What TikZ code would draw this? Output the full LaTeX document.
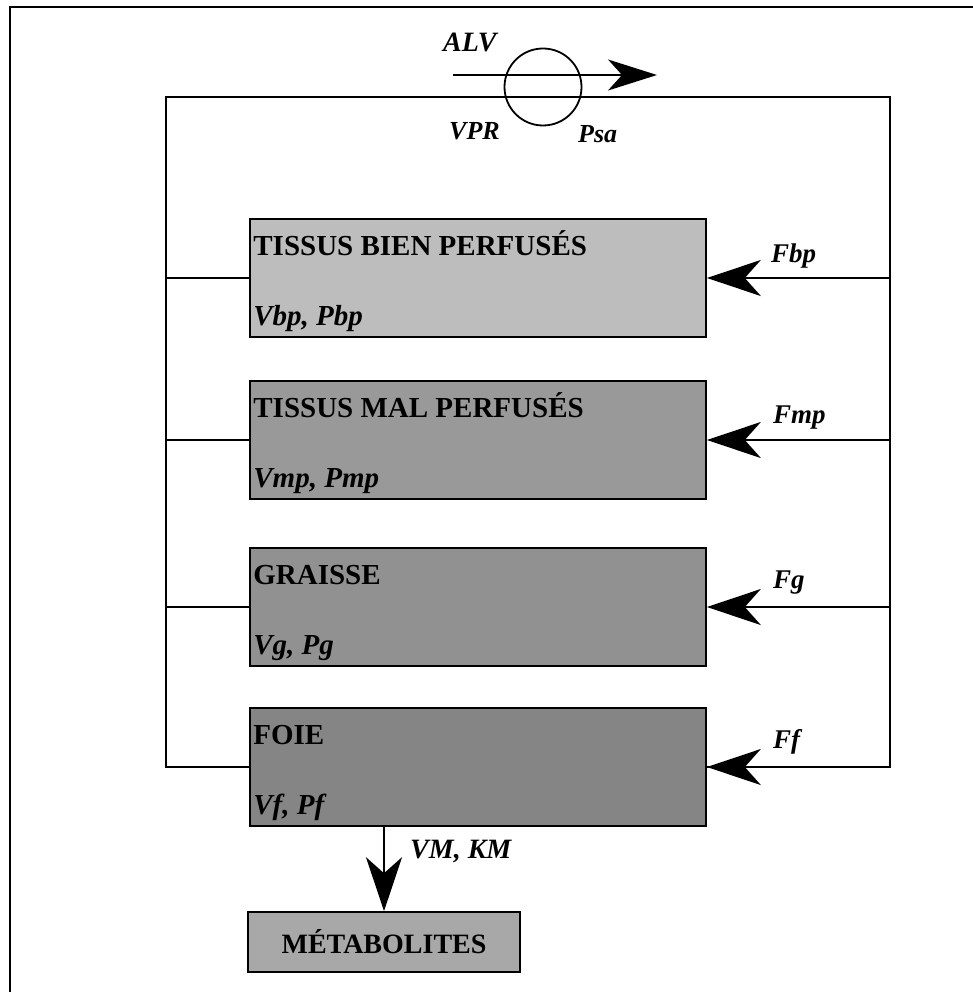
\documentclass[tikz,border=0pt]{standalone}
\usepackage{fontspec}
\setmainfont{Liberation Serif}
\usepackage{tikz}
\usetikzlibrary{arrows.meta,positioning,calc}
\usepackage{xcolor}

\begin{document}
\begin{tikzpicture}[
      x=1pt,y=-1pt,
      cmp/.style={draw,line width=1.6pt,minimum width=456pt,
                  minimum height=118pt,inner sep=0pt},
      ttl/.style={anchor=base west,inner sep=0pt,
                  font=\fontsize{29}{34}\selectfont\bfseries},
      sub/.style={anchor=base west,inner sep=0pt,
                  font=\fontsize{29}{34}\selectfont\bfseries\itshape},
      lbl/.style={anchor=base west,inner sep=0pt,
                  font=\fontsize{27}{32}\selectfont\bfseries\itshape},
      pipe/.style={line width=1.8pt},
      arr/.style={line width=1.8pt,
                  -{Stealth[length=54pt,width=36pt,inset=16pt]}},
      tarr/.style={line width=1.5pt,
                  -{Stealth[length=49pt,width=31pt,inset=14pt]}},
    ]
    \useasboundingbox (0,0) rectangle (973,992);

    % ── Frame (top and left edges only) ─────────────────────────────────────
    \draw[line width=1.3pt] (10,992) -- (10,7) -- (973,7);

    % ── Lung / circulation ──────────────────────────────────────────────────
    \node[draw,circle,line width=1.8pt,minimum size=77pt] (pump) at (543,87) {};
    \coordinate (alvin)  at (453,75);
    \coordinate (alvout) at (657,75);
    \draw[tarr] (alvin) -- (alvout);
    \node[lbl,font=\fontsize{28}{32}\selectfont\bfseries\itshape] at (443,52) {ALV};
    \node[lbl,font=\fontsize{26}{30}\selectfont\bfseries\itshape] at (449,140) {VPR};
    \node[lbl,font=\fontsize{26}{30}\selectfont\bfseries\itshape] at (578,143) {Psa};

    % ── Compartments ────────────────────────────────────────────────────────
    \node[cmp,fill=black!26] (bp)   at (478,278) {};
    \node[cmp,fill=black!40] (mp)   at (478,440) {};
    \node[cmp,fill=black!43] (gr)   at (478,607) {};
    \node[cmp,fill=black!48] (foie) at (478,767) {};

    \node[ttl] at ($(bp.north west)+(4,37)$)   {TISSUS BIEN PERFUSÉS};
    \node[sub] at ($(bp.south west)+(4,-12)$)  {Vbp, Pbp};
    \node[ttl] at ($(mp.north west)+(4,37)$)   {TISSUS MAL PERFUSÉS};
    \node[sub] at ($(mp.south west)+(4,-12)$)  {Vmp, Pmp};
    \node[ttl] at ($(gr.north west)+(4,37)$)   {GRAISSE};
    \node[sub] at ($(gr.south west)+(4,-12)$)  {Vg, Pg};
    \node[ttl] at ($(foie.north west)+(4,37)$) {FOIE};
    \node[sub] at ($(foie.south west)+(4,-12)$) {Vf, Pf};

    % ── Venous / arterial loop ──────────────────────────────────────────────
    \coordinate (tl) at (166,97);
    \coordinate (tr) at (890,97);
    \draw[pipe] (foie.west) -| (tl) -- (tr) |- (foie.east);
    \draw[pipe] (bp.west) -- (bp.west -| tl);
    \draw[pipe] (mp.west) -- (mp.west -| tl);
    \draw[pipe] (gr.west) -- (gr.west -| tl);

    % ── Flows into compartments ─────────────────────────────────────────────
    \draw[arr] (bp.east -| tr)   -- (bp.east);
    \draw[arr] (mp.east -| tr)   -- (mp.east);
    \draw[arr] (gr.east -| tr)   -- (gr.east);
    \draw[arr] (foie.east -| tr) -- (foie.east);

    \node[lbl] at ($(bp.east)+(64,-16)$)   {Fbp};
    \node[lbl] at ($(mp.east)+(66,-17)$)   {Fmp};
    \node[lbl] at ($(gr.east)+(66,-19)$)   {Fg};
    \node[lbl] at ($(foie.east)+(66,-19)$) {Ff};

    % ── Metabolism ──────────────────────────────────────────────────────────
    \node[cmp,fill=black!34,minimum width=272pt,minimum height=60pt,
          font=\fontsize{28}{32}\selectfont\bfseries] (met) at (384,942) {MÉTABOLITES};
    \draw[arr] (met.north |- foie.south) -- (met.north);
    \node[lbl,font=\fontsize{28}{32}\selectfont\bfseries\itshape] at (410,858) {VM, KM};

  \end{tikzpicture}
\end{document}
